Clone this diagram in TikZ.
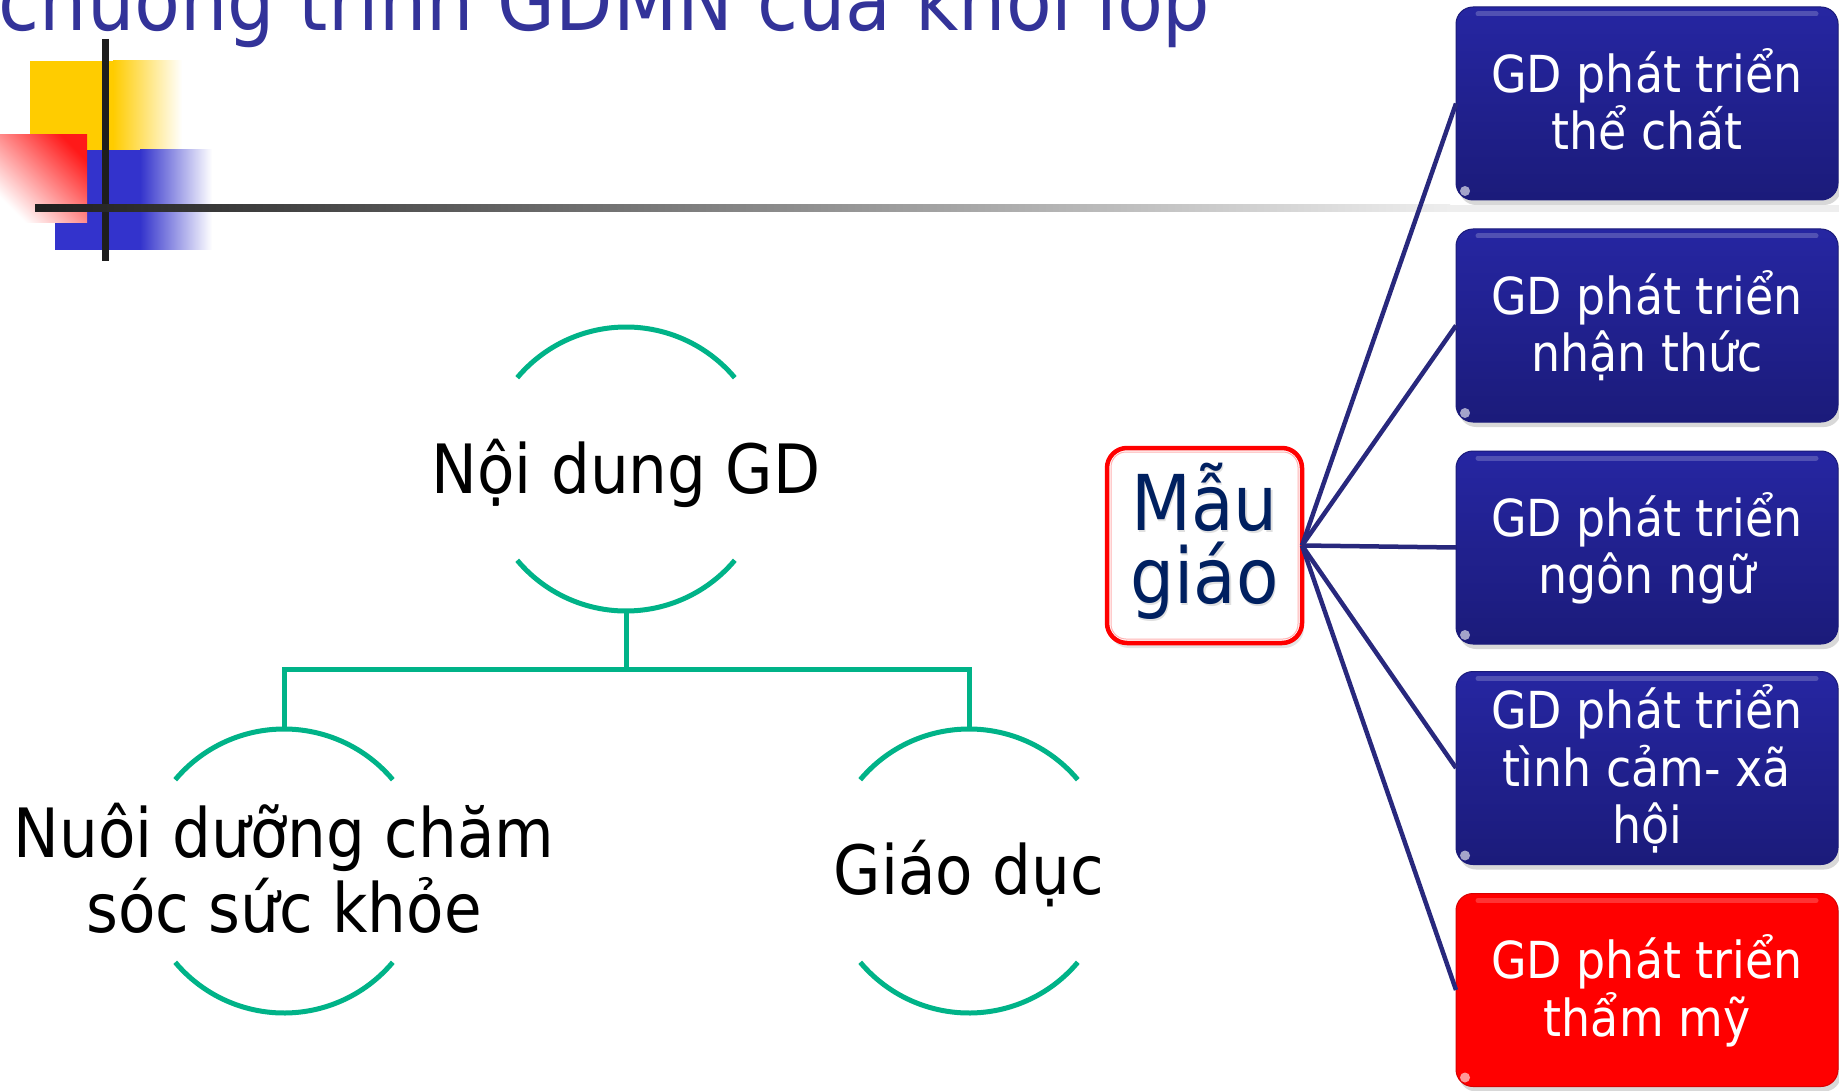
\documentclass[tikz,border=0pt]{standalone}
\usepackage{fontspec}
\setmainfont{DejaVu Sans}[FakeStretch=0.9]
\usetikzlibrary{shadows}
\definecolor{titleblue}{RGB}{51,51,153}
\definecolor{gdgreen}{RGB}{0,179,136}
\definecolor{navyline}{RGB}{40,40,125}
\definecolor{boxtop}{RGB}{38,38,162}
\definecolor{boxbot}{RGB}{27,27,122}
\definecolor{mgtext}{RGB}{0,32,96}
\definecolor{decoyellow}{RGB}{255,204,0}
\definecolor{decoblue}{RGB}{51,51,204}
\definecolor{decored}{RGB}{255,25,25}
\definecolor{linedark}{RGB}{30,30,30}
\definecolor{linelight}{RGB}{238,238,238}
\tikzset{
  lbl/.style={inner sep=0pt, outer sep=0pt, anchor=base},
  bigtxt/.style={lbl, font=\fontsize{68}{75}\selectfont, text=black},
  boxtxt/.style={lbl, font=\fontsize{51}{57}\selectfont, text=white},
  mgtxt/.style={lbl, font=\fontsize{77}{73}\selectfont, text=mgtext},
  ring/.style={circle, minimum size=284pt, inner sep=0pt, outer sep=0pt},
  arcline/.style={draw=gdgreen, line width=5pt},
  conn/.style={draw=navyline, line width=4.5pt},
  gdbox/.style={rectangle, rounded corners=17pt, minimum width=382pt, minimum height=193pt,
    inner sep=0pt, outer sep=0pt, line width=1pt,
    drop shadow={shadow xshift=3pt, shadow yshift=-5pt, opacity=0.3}},
  bluebox/.style={gdbox, top color=boxtop, bottom color=boxbot, draw=boxbot},
  redbox/.style={gdbox, fill=red, draw=red!85!black},
  gloss/.style={line width=5pt, line cap=round, draw=white, opacity=0.2},
  mgbox/.style={rectangle, rounded corners=20pt, draw=red, line width=4.5pt, fill=white,
    minimum width=195pt, minimum height=195pt, inner sep=0pt, outer sep=0pt,
    drop shadow={shadow xshift=2pt, shadow yshift=-5pt, opacity=0.2}},
}
\begin{document}
\begin{tikzpicture}[x=1pt,y=-1pt]
\useasboundingbox (0,0) rectangle (1839,1091);
\clip (0,0) rectangle (1839,1091);
\fill[white] (0,0) rectangle (1839,1091);

% decoration
\fill[decoyellow] (30,61) rectangle (113,150);
\shade[left color=decoyellow, right color=white] (113,61) rectangle (182,150);
\fill[decoblue] (55,150) rectangle (140,250);
\shade[left color=decoblue, right color=white] (140,150) rectangle (212,250);
\shade[top color=decored, bottom color=white, shading angle=-45] (0,135) rectangle (87,223);
\draw[linedark, line width=7pt] (105.5,39) -- (105.5,261);
\shade[left color=linedark, right color=linelight] (35,205) rectangle (1450,212);
\fill[linelight] (1450,205) rectangle (1839,212);

% title (cut off at the top edge, as in the slide)
\node[lbl, anchor=base east, font=\fontsize{83}{90}\selectfont, text=titleblue] (title) at (1210,31) {chương trình GDMN của khối lớp};

% left tree
\node[ring] (c1) at (626,469) {};
\node[ring] (c2) at (284,871) {};
\node[ring] (c3) at (969,871) {};
\foreach \c in {c1,c2,c3}{
  \draw[arcline] (\c.center) ++(40:142pt) arc[start angle=40, end angle=140, radius=142pt];
  \draw[arcline] (\c.center) ++(220:142pt) arc[start angle=220, end angle=320, radius=142pt];
}
\draw[arcline] (c1.south) -- ++(0,58) -| (c2.north);
\draw[arcline] (c1.south) -- ++(0,58) -| (c3.north);
\node[bigtxt] (t1) at (626,493) {Nội dung GD};
\node[bigtxt] (t2a) at (284,857) {Nuôi dưỡng chăm};
\node[bigtxt] (t2b) at (284,932) {sóc sức khỏe};
\node[bigtxt] (t3) at (969,894) {Giáo dục};

% right part
\node[mgbox] (mg) at (1204.5,545.5) {};
\draw[red!30, line width=1pt, rounded corners=15pt] ([xshift=4pt,yshift=-4pt]mg.north west) rectangle ([xshift=-4pt,yshift=4pt]mg.south east);
\node[mgtxt, text=black!12] at (1206,532) {Mẫu};
\node[mgtxt, text=black!12] at (1206,605) {giáo};
\node[mgtxt] (mg1) at (1204.5,530) {Mẫu};
\node[mgtxt] (mg2) at (1204.5,603) {giáo};

\node[bluebox] (b1) at (1647,103.5) {};
\node[bluebox] (b2) at (1647,325.5) {};
\node[bluebox] (b3) at (1647,547.5) {};
\node[bluebox] (b4) at (1647,768) {};
\node[redbox] (b5) at (1647,990) {};
\foreach \b in {b1,b2,b3,b4,b5}{
  \draw[gloss] ([xshift=22pt,yshift=-7pt]\b.north west) -- ([xshift=-22pt,yshift=-7pt]\b.north east);
  \fill[white, opacity=0.6] ([xshift=9pt,yshift=9pt]\b.south west) circle (5pt);
}

\foreach \b in {b1,b2,b3,b4,b5}{
  \draw[conn] (mg.east) -- (\b.west);
}

\node[boxtxt] (b1a) at (1647,92.5) {GD phát triển};
\node[boxtxt] (b1b) at (1647,150) {thể chất};
\node[boxtxt] (b2a) at (1647,314.5) {GD phát triển};
\node[boxtxt] (b2b) at (1647,371.5) {nhận thức};
\node[boxtxt] (b3a) at (1647,536.5) {GD phát triển};
\node[boxtxt] (b3b) at (1647,593.5) {ngôn ngữ};
\node[boxtxt] (b4a) at (1647,728) {GD phát triển};
\node[boxtxt] (b4b) at (1647,786) {tình cảm- xã};
\node[boxtxt] (b4c) at (1647,843) {hội};
\node[boxtxt] (b5a) at (1647,978.5) {GD phát triển};
\node[boxtxt] (b5b) at (1647,1036.5) {thẩm mỹ};
\end{tikzpicture}
\end{document}
